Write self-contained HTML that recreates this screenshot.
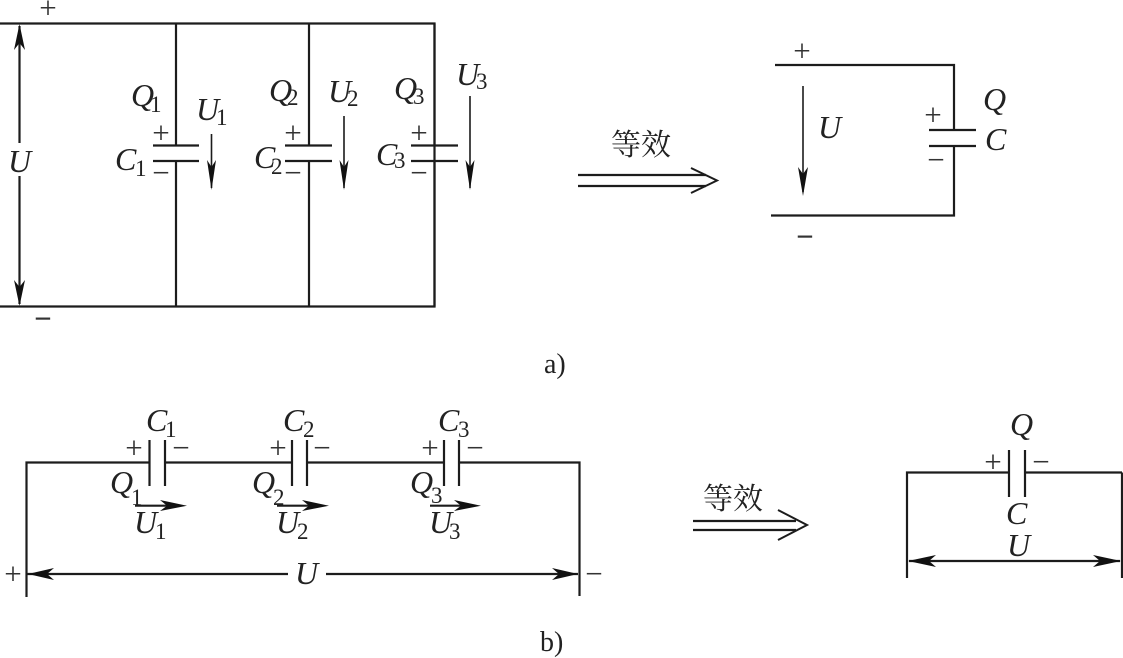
<!DOCTYPE html>
<html><head><meta charset="utf-8"><style>
html,body{margin:0;padding:0;background:#fff;width:1123px;height:658px;overflow:hidden}
svg{display:block}
text{font-family:"Liberation Serif","Noto Serif CJK SC",serif;fill:#222}
.v{font-style:italic;font-size:32px}
.s{font-size:23px}
.p{font-size:31px;text-anchor:middle;fill:#333}
.z{font-size:30px;font-family:"Noto Serif CJK SC","WenQuanYi Zen Hei",serif}
.l{stroke:#1c1c1c;stroke-width:2.2;fill:none}
.m{stroke:#1c1c1c;stroke-width:1.6;fill:none}
.h{fill:#111;stroke:none}
</style></head><body>
<svg width="1123" height="658" viewBox="0 0 1123 658" xmlns="http://www.w3.org/2000/svg">
<!-- a left -->
<path class="l" d="M0 23.500H434.500V306.500H0"/>
<path class="l" d="M176 23.500V145M176 161V306.500M309 23.500V145M309 161V306.500M434.500 23.500V145M434.500 161V306.500"/>
<path class="l" d="M153 145.500H199M153 161H199M285 145.500H332M285 161H332M411 145.500H458M411 161H458"/>
<path class="l" d="M19.500 26V143M19.500 176V304"/>
<path class="h" d="M19.500 24L25 50 19.500 43 14 50ZM19.500 306L25 280 19.500 287 14 280Z"/>
<path class="m" d="M211.500 134V188M344 116V188M470 96V188"/>
<path class="h" d="M211.500 190L216 160 211.500 167 207 160ZM344 190L348.500 160 344 167 339.500 160ZM470 190L474.500 160 470 167 465.500 160Z"/>
<text class="p" x="48" y="18">+</text><text class="p" x="43" y="329" style="font-weight:bold">−</text>
<text class="v" x="8" y="172">U</text>
<text class="v" x="131" y="106">Q</text><text class="s" x="150" y="112">1</text>
<text class="v" x="196" y="120">U</text><text class="s" x="216" y="125">1</text>
<text class="v" x="115" y="170">C</text><text class="s" x="135" y="176">1</text>
<text class="p" x="161" y="143">+</text><text class="p" x="161" y="183">−</text>
<text class="v" x="269" y="101">Q</text><text class="s" x="287" y="105">2</text>
<text class="v" x="328" y="102">U</text><text class="s" x="347" y="106">2</text>
<text class="v" x="254" y="168">C</text><text class="s" x="271" y="174">2</text>
<text class="p" x="293" y="143">+</text><text class="p" x="293" y="183">−</text>
<text class="v" x="394" y="99">Q</text><text class="s" x="413" y="104">3</text>
<text class="v" x="456" y="85">U</text><text class="s" x="476" y="89">3</text>
<text class="v" x="376" y="165">C</text><text class="s" x="394" y="168">3</text>
<text class="p" x="419" y="143">+</text><text class="p" x="419" y="183">−</text>
<!-- a arrow -->
<text class="z" x="611" y="155">等效</text>
<path class="l" d="M578 175H706M578 186H706"/>
<path class="m" style="stroke-width:2" d="M691 168L717 180.500 691 193"/>
<!-- a right -->
<path class="l" d="M775 65H954V130M954 146V215.500H771"/>
<path class="l" d="M929 130H976M929 146H976"/>
<path class="m" d="M803 86V192"/>
<path class="h" d="M803 196L808 167 803 174 798 167Z"/>
<text class="p" x="802" y="61">+</text><text class="p" x="805" y="247" style="font-weight:bold">−</text>
<text class="v" x="818" y="138">U</text>
<text class="v" x="983" y="110">Q</text><text class="v" x="985" y="150">C</text>
<text class="p" x="933" y="125">+</text><text class="p" x="936" y="170">−</text>
<text x="544" y="373" style="font-size:28px">a)</text>
<!-- b left -->
<path class="l" d="M26.500 597V462.500H150M165 462.500H292M307 462.500H444M459 462.500H579.500V596"/>
<path class="l" d="M149.500 440V486M165 440V486M292 440V486M307 440V486M444 440V486M459 440V486"/>
<path class="l" d="M27 574H288M326 574H578"/>
<path class="h" d="M28 574L54 568 47 574 54 580ZM578 574L552 568 559 574 552 580Z"/>
<path class="l" d="M135 505.700H170M277 505.700H312M430 505.700H465"/>
<path class="h" d="M187 505.700L160 500 167 505.700 160 511ZM329 505.700L302 500 309 505.700 302 511ZM481 505.700L454 500 461 505.700 454 511Z"/>
<text class="v" x="146" y="431">C</text><text class="s" x="165" y="437">1</text>
<text class="v" x="283" y="431">C</text><text class="s" x="303" y="437">2</text>
<text class="v" x="438" y="431">C</text><text class="s" x="458" y="437">3</text>
<text class="p" x="134" y="458">+</text><text class="p" x="181" y="458">−</text>
<text class="p" x="278" y="458">+</text><text class="p" x="322" y="458">−</text>
<text class="p" x="430" y="458">+</text><text class="p" x="475" y="458">−</text>
<text class="v" x="110" y="493">Q</text><text class="s" x="131" y="505">1</text>
<text class="v" x="252" y="493">Q</text><text class="s" x="273" y="505">2</text>
<text class="v" x="410" y="493">Q</text><text class="s" x="431" y="503">3</text>
<text class="v" x="134" y="533">U</text><text class="s" x="155" y="539">1</text>
<text class="v" x="276" y="533">U</text><text class="s" x="297" y="539">2</text>
<text class="v" x="429" y="533">U</text><text class="s" x="449" y="539">3</text>
<text class="v" x="295" y="584">U</text>
<text class="p" x="13" y="584">+</text><text class="p" x="594" y="584">−</text>
<text x="540" y="651" style="font-size:28px">b)</text>
<!-- b arrow -->
<text class="z" x="703" y="509">等效</text>
<path class="l" d="M693 521H796M693 530H796"/>
<path class="m" style="stroke-width:2" d="M778 510L807 525 778 540"/>
<!-- b right -->
<path class="l" d="M907 578V472.500H1009M1025 472.500H1122"/>
<path class="l" d="M1122 472.500V578M1009 450V497M1025 450V497"/>
<path class="l" d="M909 561H1120"/>
<path class="h" d="M908 561L936 555 929 561 936 567ZM1121 561L1093 555 1100 561 1093 567Z"/>
<text class="v" x="1010" y="435">Q</text>
<text class="v" x="1006" y="524">C</text>
<text class="v" x="1007" y="556">U</text>
<text class="p" x="993" y="472">+</text><text class="p" x="1041" y="472">−</text>
</svg>
</body></html>
